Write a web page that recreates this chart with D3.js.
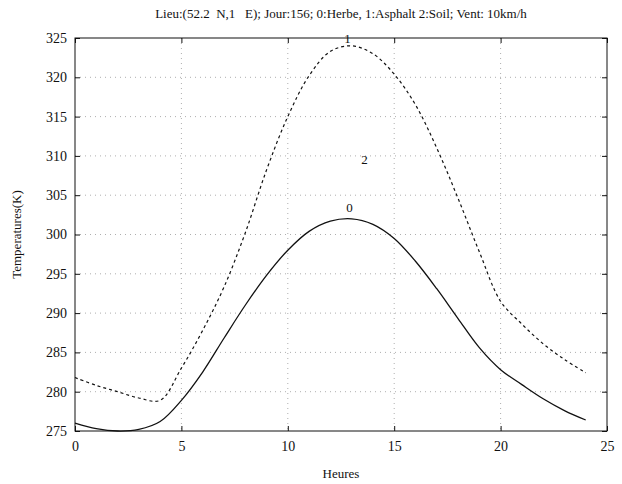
<!DOCTYPE html>
<html><head><meta charset="utf-8">
<script src="https://cdn.jsdelivr.net/npm/d3@7"></script>
<style>body{margin:0;background:#fff}svg{display:block}text{font-family:"Liberation Serif","Times New Roman",serif;fill:#111}</style>
</head><body><svg id="c" width="622" height="484"></svg>
<script>
const hours = [0,1,2,3,4,5,6,7,8,9,10,11,12,13,14,15,16,17,18,19,20,21,22,23,24];
const herbe = [276.0,275.3,275.0,275.2,276.2,278.9,282.5,286.8,291.0,294.8,298.0,300.4,301.7,302.0,301.3,299.5,296.6,293.1,289.3,285.6,282.8,280.9,279.1,277.6,276.4];
const asphalt = [281.8,280.8,280.0,279.2,278.9,283.0,287.8,293.3,300.2,308.2,315.0,320.2,323.3,324.0,323.0,320.4,316.5,311.0,304.6,297.8,291.5,288.6,286.1,284.1,282.4];
const xTicks = [0,5,10,15,20,25];
const yTicks = [275,280,285,290,295,300,305,310,315,320,325];
const curveLabels = [{t:"1", h:12.8, v:325.0},{t:"2", h:13.6, v:309.6},{t:"0", h:12.9, v:303.4}];
const title = "Lieu:(52.2  N,1   E); Jour:156; 0:Herbe, 1:Asphalt 2:Soil; Vent: 10km/h";

const L=75,R=607,T=38,B=431;
const svg=d3.select("#c");
const x=d3.scaleLinear().domain([0,25]).range([L,R]);
const y=d3.scaleLinear().domain([275,325]).range([B,T]);

// grid
const g=svg.append("g");
g.selectAll(".gx").data(xTicks.slice(1,-1)).enter().append("line")
 .attr("x1",d=>x(d)).attr("x2",d=>x(d)).attr("y1",T).attr("y2",B)
 .attr("stroke","#999").attr("stroke-width",0.8).attr("stroke-dasharray","1,4");
g.selectAll(".gy").data(yTicks.slice(1,-1)).enter().append("line")
 .attr("y1",d=>y(d)).attr("y2",d=>y(d)).attr("x1",L).attr("x2",R)
 .attr("stroke","#999").attr("stroke-width",0.8).attr("stroke-dasharray","1,4");

// box
svg.append("rect").attr("x",L).attr("y",T).attr("width",R-L).attr("height",B-T)
 .attr("fill","none").attr("stroke","#111").attr("stroke-width",1);

// axes (inward ticks)
const ax=svg.append("g").attr("transform",`translate(0,${B})`)
 .call(d3.axisBottom(x).tickValues(xTicks).tickSize(-5).tickPadding(10).tickFormat(d3.format("d")));
const axT=svg.append("g").attr("transform",`translate(0,${T})`)
 .call(d3.axisTop(x).tickValues(xTicks).tickSize(-5).tickFormat(""));
const ay=svg.append("g").attr("transform",`translate(${L},0)`)
 .call(d3.axisLeft(y).tickValues(yTicks).tickSize(-5).tickPadding(8).tickFormat(d3.format("d")));
const ayR=svg.append("g").attr("transform",`translate(${R},0)`)
 .call(d3.axisRight(y).tickValues(yTicks).tickSize(-5).tickFormat(""));
[ax,axT,ay,ayR].forEach(a=>{a.select(".domain").remove();
 a.selectAll("line").attr("stroke","#111");
 a.selectAll("text").style("font-family","'Liberation Serif',serif").style("font-size","14px").attr("fill","#111");});

// lines
const line=d3.line().x((d,i)=>x(hours[i])).y(d=>y(d)).curve(d3.curveCatmullRom.alpha(0.5));
svg.append("path").datum(herbe).attr("d",line).attr("fill","none").attr("stroke","#111").attr("stroke-width",1.3);
svg.append("path").datum(asphalt).attr("d",line).attr("fill","none").attr("stroke","#111").attr("stroke-width",1.2).attr("stroke-dasharray","3,3");

// curve labels
svg.selectAll(".cl").data(curveLabels).enter().append("text")
 .attr("x",d=>x(d.h)).attr("y",d=>y(d.v)).attr("text-anchor","middle").attr("dy","0.35em")
 .style("font-size","13px").text(d=>d.t);

// titles
svg.append("text").attr("x",(L+R)/2).attr("y",18).attr("text-anchor","middle")
 .style("font-size","13px").style("white-space","pre").text(title);
svg.append("text").attr("x",(L+R)/2).attr("y",478).attr("text-anchor","middle")
 .style("font-size","13px").text("Heures");
svg.append("text").attr("transform",`translate(21,${(T+B)/2}) rotate(-90)`).attr("text-anchor","middle")
 .style("font-size","13px").text("Temperatures(K)");
</script></body></html>
